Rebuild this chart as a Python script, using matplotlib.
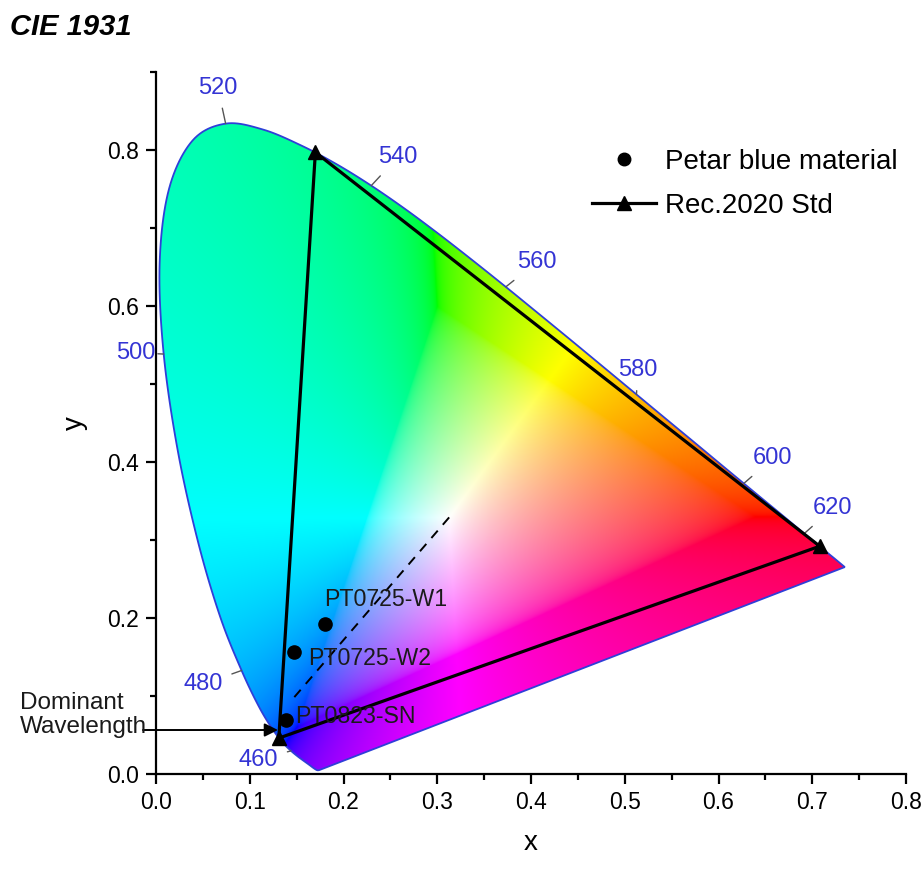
import matplotlib
matplotlib.use("Agg")
import matplotlib.pyplot as plt
import numpy as np
from matplotlib.lines import Line2D
from matplotlib.patches import Polygon
from matplotlib.ticker import MultipleLocator


plt.rcParams["font.family"] = ["Liberation Sans", "DejaVu Sans"]

# CIE 1931 2-degree spectral locus, 5 nm steps
WAVELENGTHS = list(range(380, 705, 5))
LOCUS_X = [
    0.1741, 0.1740, 0.1738, 0.1736, 0.1733, 0.1730, 0.1726, 0.1721, 0.1714, 0.1703,
    0.1689, 0.1669, 0.1644, 0.1611, 0.1566, 0.1510, 0.1440, 0.1355, 0.1241, 0.1096,
    0.0913, 0.0687, 0.0454, 0.0235, 0.0082, 0.0039, 0.0139, 0.0389, 0.0743, 0.1142,
    0.1547, 0.1929, 0.2296, 0.2658, 0.3016, 0.3373, 0.3731, 0.4087, 0.4441, 0.4788,
    0.5125, 0.5448, 0.5752, 0.6029, 0.6270, 0.6482, 0.6658, 0.6801, 0.6915, 0.7006,
    0.7079, 0.7140, 0.7190, 0.7230, 0.7260, 0.7283, 0.7300, 0.7311, 0.7320, 0.7327,
    0.7334, 0.7340, 0.7344, 0.7346, 0.7347,
]
LOCUS_Y = [
    0.0050, 0.0050, 0.0049, 0.0049, 0.0048, 0.0048, 0.0048, 0.0048, 0.0051, 0.0058,
    0.0069, 0.0086, 0.0109, 0.0138, 0.0177, 0.0227, 0.0297, 0.0399, 0.0578, 0.0868,
    0.1327, 0.2007, 0.2950, 0.4127, 0.5384, 0.6548, 0.7502, 0.8120, 0.8338, 0.8262,
    0.8059, 0.7816, 0.7543, 0.7243, 0.6923, 0.6589, 0.6245, 0.5896, 0.5547, 0.5202,
    0.4866, 0.4544, 0.4242, 0.3965, 0.3725, 0.3514, 0.3340, 0.3197, 0.3083, 0.2993,
    0.2920, 0.2859, 0.2809, 0.2770, 0.2740, 0.2717, 0.2700, 0.2689, 0.2680, 0.2673,
    0.2666, 0.2660, 0.2656, 0.2654, 0.2653,
]

MARKED_NM = [460, 480, 500, 520, 540, 560, 580, 600, 620]

REC2020_X = [0.708, 0.170, 0.131]
REC2020_Y = [0.292, 0.797, 0.046]

SAMPLE_NAMES = ["PT0725-W1", "PT0725-W2", "PT0823-SN"]
SAMPLE_X = [0.180, 0.147, 0.139]
SAMPLE_Y = [0.192, 0.156, 0.069]

# white point -> blue sample construction line
DOMINANT_LINE_X = [0.3127, 0.145]
DOMINANT_LINE_Y = [0.3290, 0.095]

# where each wavelength number sits
NM_LABEL_POS = {
    460: (0.109, 0.018), 480: (0.050, 0.115), 500: (-0.022, 0.540),
    520: (0.066, 0.880), 540: (0.258, 0.791), 560: (0.406, 0.656),
    580: (0.514, 0.518), 600: (0.658, 0.405), 620: (0.722, 0.341),
}
SAMPLE_LABEL_POS = [(0.1792, 0.2231), (0.1621, 0.1487), (0.1483, 0.0731)]

LABEL_BLUE = "#3434d4"
EDGE_BLUE = "#2f3fd8"


def catmull_rom(px, py, steps=12):
    # smooth curve through the tabulated locus points
    p = np.column_stack([px, py])
    p = np.vstack([p[:1], p, p[-1:]])
    t = np.linspace(0, 1, steps, endpoint=False)[:, None]
    out = []
    for i in range(1, len(p) - 2):
        p0, p1, p2, p3 = p[i - 1], p[i], p[i + 1], p[i + 2]
        seg = 0.5 * ((2 * p1) + (-p0 + p2) * t
                     + (2 * p0 - 5 * p1 + 4 * p2 - p3) * t ** 2
                     + (-p0 + 3 * p1 - 3 * p2 + p3) * t ** 3)
        out.append(seg)
    out.append(p[-2:-1])
    return np.vstack(out)


def chromaticity_rgb(xx, yy):
    # xyY (Y=1) -> XYZ -> linear sRGB, desaturate out-of-gamut, normalise
    with np.errstate(divide="ignore", invalid="ignore"):
        X = xx / yy
        Z = (1 - xx - yy) / yy
    Y = np.ones_like(X)
    m = np.array([[3.2406, -1.5372, -0.4986],
                  [-0.9689, 1.8758, 0.0415],
                  [0.0557, -0.2040, 1.0570]])
    xyz = np.stack([X, Y, Z], axis=-1)
    rgb = xyz @ m.T
    lo = rgb.min(axis=-1, keepdims=True)
    rgb = np.where(lo < 0, rgb - lo, rgb)
    rgb = rgb / rgb.max(axis=-1, keepdims=True)
    rgb = np.clip(rgb, 0, 1)
    rgb = np.where(rgb <= 0.0031308, 12.92 * rgb, 1.055 * rgb ** (1 / 2.4) - 0.055)
    return np.nan_to_num(np.clip(rgb, 0, 1))


fig = plt.figure(figsize=(9.24, 8.74), dpi=100)
ax = fig.add_axes([156 / 924, 1 - 774 / 874, 750 / 924, 702 / 874])
ax.set_xlim(0, 0.8)
ax.set_ylim(0, 0.9)

# colour fill clipped to the horseshoe
gx = np.linspace(0, 0.8, 800)
gy = np.linspace(0.0005, 0.9, 900)
xx, yy = np.meshgrid(gx, gy)
img = chromaticity_rgb(xx, yy)
im = ax.imshow(img, origin="lower", extent=(0, 0.8, 0, 0.9), aspect="auto",
               interpolation="bilinear", zorder=0)
outline = catmull_rom(LOCUS_X, LOCUS_Y)
locus = Polygon(outline, closed=True, facecolor="none", edgecolor=EDGE_BLUE,
                lw=1.3, zorder=2)
ax.add_patch(locus)
im.set_clip_path(locus)

# wavelength numbers with small tick lines to the locus
for nm in MARKED_NM:
    i = WAVELENGTHS.index(nm)
    ax.annotate(str(nm), xy=(LOCUS_X[i], LOCUS_Y[i]), xytext=NM_LABEL_POS[nm],
                ha="center", va="center", fontsize=17, color=LABEL_BLUE,
                annotation_clip=False,
                arrowprops=dict(arrowstyle="-", color="#555555", lw=1.0,
                                shrinkA=5, shrinkB=0))

# Rec.2020 gamut triangle
tri_x = REC2020_X + REC2020_X[:1]
tri_y = REC2020_Y + REC2020_Y[:1]
ax.plot(tri_x, tri_y, color="black", lw=2.3, zorder=4)
ax.plot(REC2020_X, REC2020_Y, ls="none", marker="^", ms=10.5, color="black", zorder=5)

ax.plot(DOMINANT_LINE_X, DOMINANT_LINE_Y, color="black", lw=1.4, ls=(0, (5, 4)), zorder=4)

ax.plot(SAMPLE_X, SAMPLE_Y, ls="none", marker="o", ms=9.5, color="black", zorder=6)
for name, (lx, ly) in zip(SAMPLE_NAMES, SAMPLE_LABEL_POS):
    ax.text(lx, ly, name, ha="left", va="center", fontsize=16.7, color="#1a1a1a", zorder=7)

# dominant wavelength pointer
ax.annotate("", xy=(0.1301, 0.0564), xytext=(-0.0139, 0.0564),
            annotation_clip=False,
            arrowprops=dict(arrowstyle="-|>", color="black", lw=1.4,
                            mutation_scale=20, shrinkA=0, shrinkB=0))
ax.text(-0.145, 0.0756, "Dominant\nWavelength", ha="left", va="center",
        fontsize=17.5, linespacing=1.1, color="#1a1a1a", clip_on=False)

# axes styling
for side in ["top", "right"]:
    ax.spines[side].set_visible(False)
for side in ["left", "bottom"]:
    ax.spines[side].set_linewidth(1.6)
ax.xaxis.set_major_locator(MultipleLocator(0.1))
ax.xaxis.set_minor_locator(MultipleLocator(0.05))
ax.yaxis.set_major_locator(MultipleLocator(0.2))
ax.yaxis.set_minor_locator(MultipleLocator(0.1))
ax.tick_params(which="major", length=7, width=1.6, labelsize=16.5, pad=5)
ax.tick_params(which="minor", length=4, width=1.6)
ax.set_xticklabels([f"{v:.1f}" for v in ax.get_xticks()])
ax.set_yticklabels([f"{v:.1f}" for v in ax.get_yticks()])
ax.set_xlabel("x", fontsize=20, labelpad=12)
ax.set_ylabel("y", fontsize=20, labelpad=14)

handles = [
    Line2D([], [], ls="none", marker="o", ms=9, color="black", label="Petar blue material"),
    Line2D([], [], color="black", lw=2.3, marker="^", ms=9.5, label="Rec.2020 Std"),
]
ax.legend(handles=handles, loc="upper left", bbox_to_anchor=(0.581, 0.891),
          frameon=False, borderpad=0, borderaxespad=0, handlelength=2.3,
          handletextpad=0.35, labelspacing=0.65, fontsize=20)

fig.text(0.011, 0.985, "CIE 1931", fontsize=21, fontweight="bold", fontstyle="italic",
         ha="left", va="top")

fig.savefig("out.png", dpi=100)
